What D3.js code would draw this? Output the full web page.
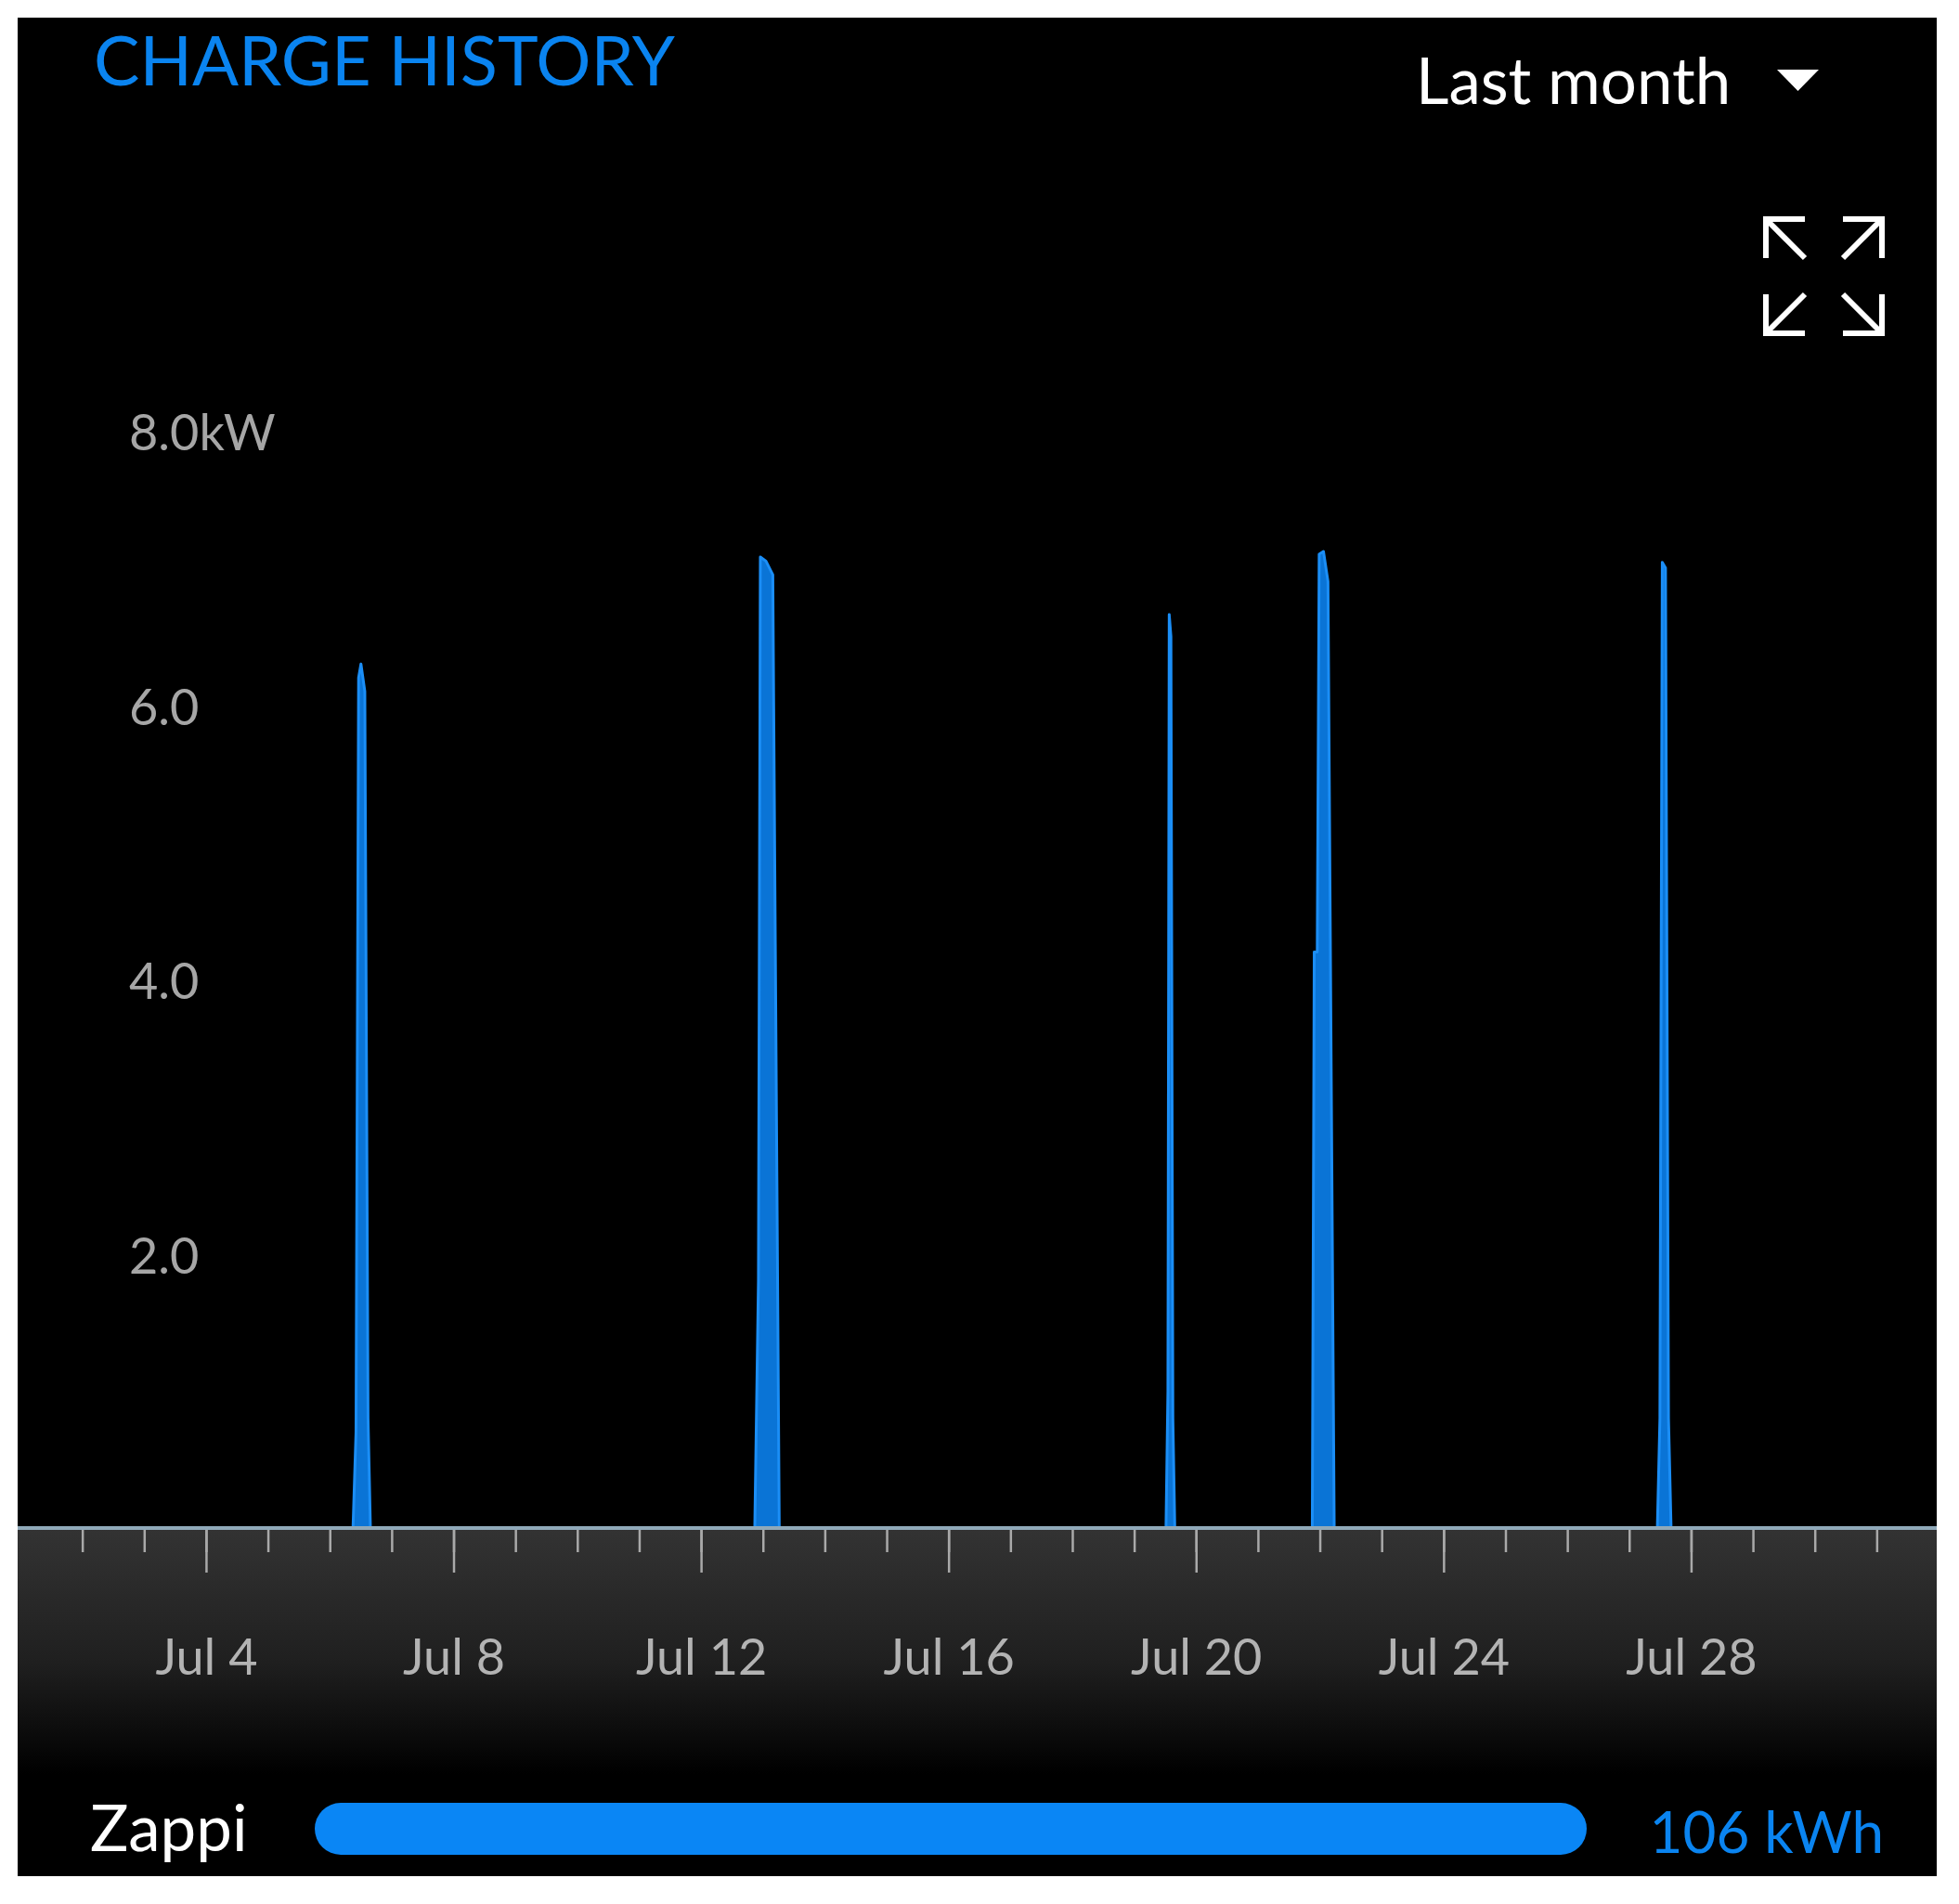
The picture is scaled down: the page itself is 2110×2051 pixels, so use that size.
<!DOCTYPE html>
<html>
<head>
<meta charset="utf-8">
<script src="https://cdn.jsdelivr.net/npm/d3@7"></script>
<style>
  html, body { margin: 0; padding: 0; background: #ffffff; }
  svg { display: block; }
  text { font-family: "Lato", "Open Sans", "DejaVu Sans", sans-serif; }
</style>
</head>
<body>
<svg id="chart" width="2110" height="2051"></svg>
<script>
// ---------- data ----------
const titleText = "CHARGE HISTORY";
const periodText = "Last month";
const domainStart = "2023-07-01T00:00";
const domainEnd = "2023-08-01T00:00";

// charging power samples (kW)
const chargeTimes = [
  "2023-07-01T00:00",
  "2023-07-06T09:00", "2023-07-06T10:10", "2023-07-06T11:10", "2023-07-06T12:05", "2023-07-06T13:35", "2023-07-06T14:50", "2023-07-06T15:45",
  "2023-07-12T20:50", "2023-07-12T22:15", "2023-07-12T23:00", "2023-07-13T01:10", "2023-07-13T03:50", "2023-07-13T06:20",
  "2023-07-19T12:20", "2023-07-19T13:05", "2023-07-19T13:35", "2023-07-19T14:15", "2023-07-19T15:00", "2023-07-19T15:45",
  "2023-07-21T21:05", "2023-07-21T21:50", "2023-07-21T23:00", "2023-07-21T23:45", "2023-07-22T01:25", "2023-07-22T03:10", "2023-07-22T05:35",
  "2023-07-27T10:55", "2023-07-27T11:55", "2023-07-27T12:50", "2023-07-27T14:05", "2023-07-27T15:15", "2023-07-27T16:15",
  "2023-08-01T00:00"
];
const chargeKW = [
  0,
  0, 0.7, 6.2, 6.3, 6.1, 0.8, 0,
  0, 1.8, 7.08, 7.05, 6.95, 0,
  0, 1.0, 6.66, 6.5, 0.8, 0,
  0, 4.2, 4.2, 7.1, 7.12, 6.9, 0,
  0, 0.8, 7.04, 7.0, 0.8, 0,
  0
];

const yTicks = [2, 4, 6, 8];
const yTickLabels = ["2.0", "4.0", "6.0", "8.0kW"];
const xMajorTickDates = ["2023-07-04", "2023-07-08", "2023-07-12", "2023-07-16", "2023-07-20", "2023-07-24", "2023-07-28"];
const xMinorStart = "2023-07-02";

const deviceNames = ["Zappi"];
const deviceEnergy = [106];
const energyUnit = "kWh";

// ---------- setup ----------
const W = 2110, H = 2051;
const panel = { x0: 19, y0: 19, x1: 2086, y1: 2021 };
const parseT = d3.timeParse("%Y-%m-%dT%H:%M");
const parseD = d3.timeParse("%Y-%m-%d");

const svg = d3.select("#chart");
const BLUE = "#0a84f0";

svg.append("rect").attr("x", 0).attr("y", 0).attr("width", W).attr("height", H).attr("fill", "#fff");
svg.append("rect")
  .attr("x", panel.x0).attr("y", panel.y0)
  .attr("width", panel.x1 - panel.x0).attr("height", panel.y1 - panel.y0)
  .attr("fill", "#000");

const defs = svg.append("defs");
const grad = defs.append("linearGradient").attr("id", "axisBand")
  .attr("x1", 0).attr("y1", 0).attr("x2", 0).attr("y2", 1);
grad.append("stop").attr("offset", "0%").attr("stop-color", "#333333");
grad.append("stop").attr("offset", "55%").attr("stop-color", "#1f1f1f");
grad.append("stop").attr("offset", "100%").attr("stop-color", "#000000");

defs.append("clipPath").attr("id", "panelClip")
  .append("rect").attr("x", panel.x0).attr("y", panel.y0)
  .attr("width", panel.x1 - panel.x0).attr("height", panel.y1 - panel.y0);

// scales
const x = d3.scaleTime().domain([parseT(domainStart), parseT(domainEnd)]).range([22, 2088]);
const y = d3.scaleLinear().domain([0, 8]).range([1646, 464]);

// ---------- header ----------
svg.append("text")
  .attr("x", 101).attr("y", 92)
  .attr("fill", BLUE)
  .attr("font-size", 74)
  .text(titleText);

svg.append("text")
  .attr("x", 1525).attr("y", 112)
  .attr("fill", "#ffffff")
  .attr("font-size", 69)
  .text(periodText);

// dropdown triangle
svg.append("path")
  .attr("d", "M1914,75 L1959,75 L1936.5,98 Z")
  .attr("fill", "#ffffff");

// expand icon
(function () {
  const g = svg.append("g").attr("stroke", "#ffffff").attr("stroke-width", 6).attr("fill", "none")
    .attr("stroke-linecap", "butt");
  const L = 42, left = 1902, right = 2027, top = 236, bottom = 359;
  const corners = [
    { cx: left, cy: top, sx: 1, sy: 1 },
    { cx: right, cy: top, sx: -1, sy: 1 },
    { cx: left, cy: bottom, sx: 1, sy: -1 },
    { cx: right, cy: bottom, sx: -1, sy: -1 }
  ];
  corners.forEach(c => {
    g.append("path").attr("d",
      `M${c.cx + c.sx * L},${c.cy} L${c.cx},${c.cy} L${c.cx},${c.cy + c.sy * L}`);
    g.append("path").attr("d",
      `M${c.cx},${c.cy} L${c.cx + c.sx * L},${c.cy + c.sy * L}`);
  });
})();

// ---------- axis band ----------
svg.append("rect")
  .attr("x", panel.x0).attr("y", y(0))
  .attr("width", panel.x1 - panel.x0).attr("height", 265)
  .attr("fill", "url(#axisBand)");

// ---------- area ----------
const series = chargeTimes.map((t, i) => ({ t: parseT(t), v: chargeKW[i] }));
const area = d3.area()
  .x(d => x(d.t))
  .y0(y(0))
  .y1(d => y(d.v))
  .curve(d3.curveLinear);

svg.append("g").attr("clip-path", "url(#panelClip)")
  .append("path")
  .datum(series)
  .attr("d", area)
  .attr("fill", "#0a74d6")
  .attr("stroke", "#1b8ef6")
  .attr("stroke-width", 3)
  .attr("stroke-linejoin", "round");

// ---------- x axis ----------
const minorDates = d3.timeDay.range(parseD(xMinorStart), parseT(domainEnd));
const majorDates = xMajorTickDates.map(parseD);
const fmt = d3.timeFormat("%b %-d");

const gMinor = svg.append("g").attr("transform", `translate(0,${y(0)})`)
  .call(d3.axisBottom(x).tickValues(minorDates).tickSize(26).tickFormat(""));
const gMajor = svg.append("g").attr("transform", `translate(0,${y(0)})`)
  .call(d3.axisBottom(x).tickValues(majorDates).tickSize(48).tickPadding(72).tickFormat(fmt));

[gMinor, gMajor].forEach(g => {
  g.select(".domain").remove();
  g.selectAll(".tick line").attr("stroke", "#a9a9a9").attr("stroke-width", 2.5);
});
gMajor.selectAll(".tick text")
  .attr("fill", "#b3b3b3")
  .attr("font-size", 54)
  .attr("font-family", "Lato, 'Open Sans', sans-serif");

// baseline line
svg.append("line")
  .attr("x1", panel.x0).attr("x2", panel.x1)
  .attr("y1", y(0)).attr("y2", y(0))
  .attr("stroke", "#90a9b9").attr("stroke-width", 4);

// ---------- y labels ----------
svg.append("g").selectAll("text")
  .data(yTicks)
  .join("text")
  .attr("x", 139)
  .attr("y", d => y(d) + 21)
  .attr("fill", "#a6a6a6")
  .attr("font-size", 54)
  .text((d, i) => yTickLabels[i]);

// ---------- device summary ----------
const barScale = d3.scaleLinear().domain([0, d3.max(deviceEnergy)]).range([339, 1709]);
deviceNames.forEach((name, i) => {
  svg.append("text")
    .attr("x", 97).attr("y", 1994)
    .attr("fill", "#ffffff")
    .attr("font-size", 69)
    .text(name);
  svg.append("rect")
    .attr("x", barScale(0)).attr("y", 1942)
    .attr("width", barScale(deviceEnergy[i]) - barScale(0))
    .attr("height", 56).attr("rx", 28).attr("ry", 28)
    .attr("fill", "#0a86f5");
  svg.append("text")
    .attr("x", 2029).attr("y", 1996)
    .attr("text-anchor", "end")
    .attr("fill", BLUE)
    .attr("font-size", 62)
    .text(`${deviceEnergy[i]} ${energyUnit}`);
});
</script>
</body>
</html>
